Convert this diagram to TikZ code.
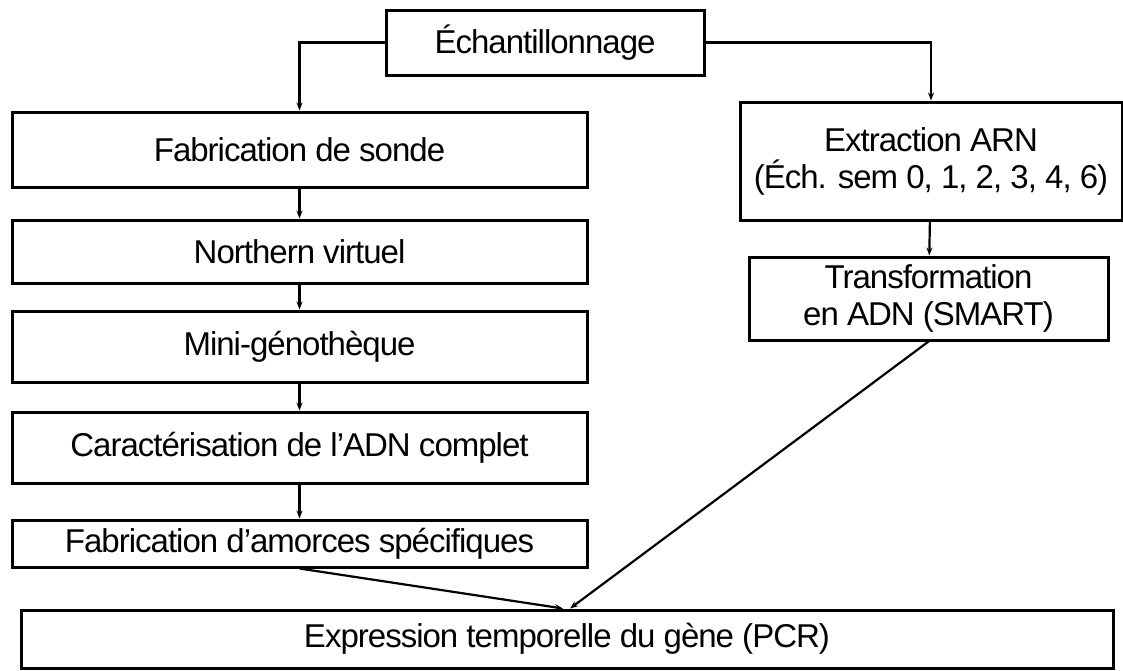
\documentclass[tikz,border=0pt]{standalone}
\usepackage{fontspec}
\setmainfont{Liberation Sans}[LetterSpace=-3]
\usetikzlibrary{arrows.meta}
\tikzset{
	etape/.style={draw,line width=3pt,inner sep=0pt,align=center,font=\fontsize{33}{37}\selectfont},
	fleche/.style={line width=2.2pt,-{Stealth[length=8pt,width=6pt]}}
}
\begin{document}
\begin{tikzpicture}[x=1pt,y=-1pt]
			\useasboundingbox (0,0) rectangle (1123,670);
			% colonne de gauche
			\node[etape,minimum width=318pt,minimum height=65pt] (echant) at (545,42.5) {Échantillonnage};
			\node[etape,minimum width=575pt,minimum height=75pt] (sonde) at (299.5,149.5) {Fabrication de sonde};
			\node[etape,minimum width=575pt,minimum height=63pt] (northern) at (299.5,251.5) {Northern virtuel};
			\node[etape,minimum width=575pt,minimum height=71pt] (minigen) at (299.5,346.5) {Mini-génothèque};
			\node[etape,minimum width=575pt,minimum height=71pt] (caract) at (299.5,447.5) {Caractérisation de l’ADN complet};
			\node[etape,minimum width=575pt,minimum height=47pt] (amorces) at (299.5,543.5) {Fabrication d’amorces spécifiques};
			% colonne de droite
			\node[etape,minimum width=382pt,minimum height=118pt] (arn) at (931,161) {Extraction ARN\\(Éch. sem 0, 1, 2, 3, 4, 6)};
			\node[etape,minimum width=359pt,minimum height=83pt] (adn) at (928.5,298.5) {Transformation\\en ADN (SMART)};
			% bas
			\node[etape,minimum width=1092pt,minimum height=58pt] (expr) at (567,639) {Expression temporelle du gène (PCR)};
			\draw[fleche] (echant.west) -| (sonde.north);
			\draw[fleche] (echant.east) -| (arn.north);
			\draw[fleche] (sonde) -- (northern);
			\draw[fleche] (northern) -- (minigen);
			\draw[fleche] (minigen) -- (caract);
			\draw[fleche] (caract) -- (amorces);
			\draw[fleche] (arn) -- (adn);
			\draw[fleche] (amorces.south) -- ([xshift=-4pt]expr.north);
			\draw[fleche] (adn.south) -- ([xshift=3pt]expr.north);
		\end{tikzpicture}
\end{document}
